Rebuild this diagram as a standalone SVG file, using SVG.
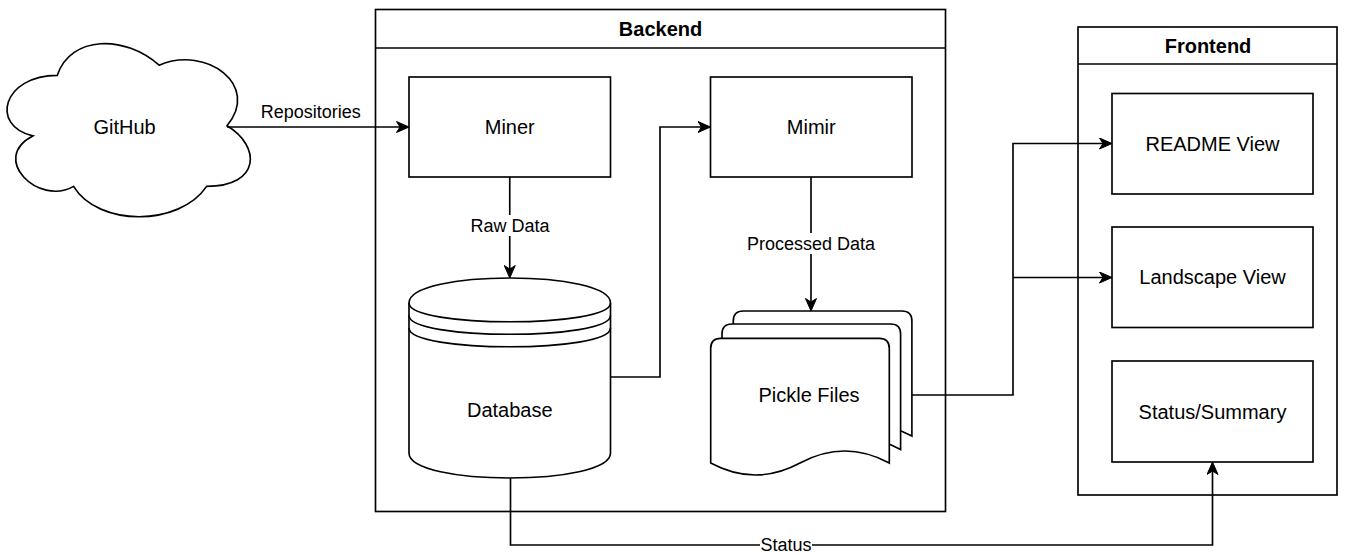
<svg xmlns="http://www.w3.org/2000/svg" width="1352" height="554" viewBox="0 0 1352 554">
  <style>
    .shape { fill: #ffffff; stroke: #000000; stroke-width: 1.65; }
    .line { fill: none; stroke: #000000; stroke-width: 1.65; }
    .edge { fill: none; stroke: #000000; stroke-width: 1.65; }
    .label { font-family: "Liberation Sans", Arial, sans-serif; font-size: 20px; fill: #000000; text-anchor: middle; }
    .title { font-family: "Liberation Sans", Arial, sans-serif; font-size: 20px; font-weight: bold; fill: #000000; text-anchor: middle; }
    .edge-label { font-family: "Liberation Sans", Arial, sans-serif; font-size: 18px; fill: #000000; text-anchor: middle; }
    .label-bg { fill: #ffffff; stroke: none; }
  </style>
  <defs>
    <!-- classic arrowhead; the path ends 8px before the target and refX compensates -->
    <marker id="arrow" viewBox="0 0 14 12" refX="5" refY="6" markerWidth="14" markerHeight="12" orient="auto" markerUnits="userSpaceOnUse">
      <path d="M0.5,0.5 L13,6 L0.5,11.5 L4,6 Z" fill="#000000" stroke="#000000" stroke-width="1"/>
    </marker>
  </defs>

  <rect width="1352" height="554" fill="#ffffff"/>

  <!-- containers -->
  <g id="backend">
    <rect class="shape" x="375.5" y="9.5" width="570" height="502"/>
    <line class="line" x1="375.5" y1="48" x2="945.5" y2="48"/>
    <text class="title" x="660.5" y="36">Backend</text>
  </g>
  <g id="frontend">
    <rect class="shape" x="1078" y="27" width="259" height="468"/>
    <line class="line" x1="1078" y1="64" x2="1337" y2="64"/>
    <text class="title" x="1208" y="52.5">Frontend</text>
  </g>

  <!-- nodes -->
  <g id="github">
    <path class="shape" d="M57.3,75.3 C3,75.3 -10.6,125.8 32.8,135.9 C-10.6,158.1 38.3,206.6 73.6,186.4 C98,226.8 179.5,226.8 206.6,186.4 C260.9,186.4 260.9,146 227,125.8 C260.9,85.4 206.6,45 159.1,65.2 C125.2,34.9 70.9,34.9 57.3,75.3 Z"/>
    <text class="label" x="124.5" y="134">GitHub</text>
  </g>

  <g id="miner">
    <rect class="shape" x="409" y="77" width="201.5" height="100"/>
    <text class="label" x="509.75" y="134">Miner</text>
  </g>

  <g id="mimir">
    <rect class="shape" x="710.5" y="77" width="201.5" height="100"/>
    <text class="label" x="811.25" y="134">Mimir</text>
  </g>

  <g id="database">
    <path class="shape" d="M409,303 C409,269.7 610.5,269.7 610.5,303 L610.5,453 C610.5,486.3 409,486.3 409,453 Z"/>
    <path class="line" d="M409,303 C409,328 610.5,328 610.5,303"/>
    <path class="line" d="M409,315.5 C409,340.5 610.5,340.5 610.5,315.5"/>
    <path class="line" d="M409,328 C409,353 610.5,353 610.5,328"/>
    <text class="label" x="509.75" y="416.5">Database</text>
  </g>

  <g id="pickle-files">
    <path class="shape" d="M733.3,321 Q733.3,311 743.3,311 L901.9,311 Q911.9,311 911.9,321 L911.9,436 Q867.3,412 822.6,436 Q778,460 733.3,436 Z"/>
    <path class="shape" d="M722,334 Q722,324 732,324 L890.6,324 Q900.6,324 900.6,334 L900.6,449.5 Q856,425.5 811.3,449.5 Q766.7,473.5 722,449.5 Z"/>
    <path class="shape" d="M710.7,348.3 Q710.7,338.3 720.7,338.3 L879.3,338.3 Q889.3,338.3 889.3,348.3 L889.3,463 Q844.7,439 800,463 Q755.3,487 710.7,463 Z"/>
    <text class="label" x="809" y="402">Pickle Files</text>
  </g>

  <g id="readme-view">
    <rect class="shape" x="1112" y="93.5" width="201" height="100.5"/>
    <text class="label" x="1212.5" y="150.5">README View</text>
  </g>

  <g id="landscape-view">
    <rect class="shape" x="1112" y="227" width="201" height="100.5"/>
    <text class="label" x="1212.5" y="284">Landscape View</text>
  </g>

  <g id="status-summary">
    <rect class="shape" x="1112" y="361" width="201" height="101"/>
    <text class="label" x="1212.5" y="418.5">Status/Summary</text>
  </g>

  <!-- connectors -->
  <g id="connectors">
    <!-- GitHub -> Miner -->
    <path class="edge" d="M227,127 L401,127" marker-end="url(#arrow)"/>
    <text class="edge-label" x="310.7" y="118">Repositories</text>

    <!-- Miner -> Database -->
    <path class="edge" d="M509.75,177 L509.75,270" marker-end="url(#arrow)"/>
    <rect class="label-bg" x="469.5" y="215" width="81" height="21"/>
    <text class="edge-label" x="510" y="232">Raw Data</text>

    <!-- Database -> Mimir -->
    <path class="edge" d="M610.5,377 L660,377 L660,127 L702.5,127" marker-end="url(#arrow)"/>

    <!-- Mimir -> Pickle Files -->
    <path class="edge" d="M811,177 L811,303" marker-end="url(#arrow)"/>
    <rect class="label-bg" x="745.5" y="233" width="131" height="21"/>
    <text class="edge-label" x="811" y="250">Processed Data</text>

    <!-- Pickle Files -> README View / Landscape View -->
    <path class="edge" d="M911.9,395 L1013,395 L1013,143.5 L1104,143.5" marker-end="url(#arrow)"/>
    <path class="edge" d="M1013,277.5 L1104,277.5" marker-end="url(#arrow)"/>

    <!-- Database -> Status/Summary -->
    <path class="edge" d="M510.5,478 L510.5,545 L1212.5,545 L1212.5,470" marker-end="url(#arrow)"/>
    <rect class="label-bg" x="760" y="535" width="52" height="19"/>
    <text class="edge-label" x="786" y="551.3">Status</text>
  </g>
</svg>
